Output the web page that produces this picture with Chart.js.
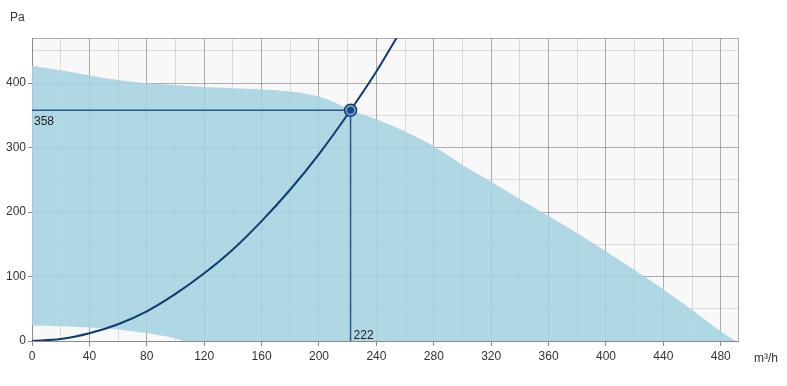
<!DOCTYPE html>
<html>
<head>
<meta charset="utf-8">
<script src="https://cdn.jsdelivr.net/npm/chart.js@4"></script>
<style>
  html, body { margin: 0; padding: 0; background: #fff; }
  #wrap { width: 787px; height: 386px; }
</style>
</head>
<body>
<div id="wrap"><canvas id="fanChart"></canvas></div>
<script>
// Área de trabajo del ventilador (límite superior e inferior)
const upperX = [0, 20, 40, 60, 80, 100, 120, 140, 160, 180, 190, 200, 210, 222, 240, 260, 280, 300, 320, 340, 360, 380, 400, 420, 440, 460, 480, 489, 491];
const upperY = [427, 420, 412, 405, 400, 397, 394, 392, 390, 387, 384, 379, 371, 358, 344, 325, 302, 273, 247, 220, 194, 167, 139, 110, 80, 48, 15, 2, 0];
const lowerX = [0, 20, 40, 60, 80, 100, 106, 491];
const lowerY = [24, 23, 21, 18, 12, 4, 0, 0];

// Curva del sistema
const systemX = [0, 20, 40, 60, 80, 100, 120, 140, 160, 180, 200, 222, 240, 254];
const systemY = [0, 3, 12, 26, 46, 73, 105, 142, 186, 235, 290, 358, 418, 470];

// Punto de trabajo
const workFlow = 222;
const workPressure = 358;

// Ticks de los ejes
const xTicks = [0, 20, 40, 60, 80, 100, 120, 140, 160, 180, 200, 220, 240, 260, 280, 300, 320, 340, 360, 380, 400, 420, 440, 460, 480, 492];
const yTicks = [0, 50, 100, 150, 200, 250, 300, 350, 400, 450, 470];

const xMax = 492;
const yMax = 470;

const toPoints = (xs, ys) => xs.map((x, i) => ({ x: x, y: ys[i] }));

const FONT = '"Liberation Sans", Arial, sans-serif';
const TEXT = '#333';

const plotBackground = {
    id: 'plotBackground',
    beforeDraw(chart) {
        const { ctx, chartArea: a } = chart;
        ctx.save();
        ctx.fillStyle = '#f8f8f8';
        ctx.fillRect(a.left, a.top, a.right - a.left, a.bottom - a.top);
        ctx.restore();
    }
};

const extraTexts = {
    id: 'extraTexts',
    afterDraw(chart) {
        const { ctx, scales: { x, y } } = chart;
        ctx.save();
        ctx.fillStyle = TEXT;
        ctx.font = '12px ' + FONT;
        ctx.textAlign = 'left';
        ctx.textBaseline = 'top';
        ctx.fillText('Pa', 10, 12);
        ctx.textBaseline = 'middle';
        ctx.fillText('m³/h', 754, 359);
        // etiquetas del punto de trabajo
        ctx.fillStyle = '#222';
        ctx.textBaseline = 'top';
        ctx.fillText(String(workPressure), x.getPixelForValue(0) + 2, y.getPixelForValue(workPressure) + 5);
        ctx.textBaseline = 'bottom';
        ctx.fillText(String(workFlow), x.getPixelForValue(workFlow) + 3, y.getPixelForValue(0) + 1);
        ctx.restore();
    }
};

const gridColor = (major, edge) => (c) =>
    (c.tick && (c.tick.value % major === 0 || c.tick.value === edge)) ? 'rgba(110,110,110,0.55)' : 'rgba(150,150,150,0.3)';
const tickMarkColor = (major) => (c) =>
    (c.tick && c.tick.value % major === 0) ? '#8a8a8a' : 'rgba(0,0,0,0)';

new Chart(document.getElementById('fanChart'), {
    type: 'line',
    data: {
        datasets: [
            {
                data: toPoints(upperX, upperY),
                borderWidth: 0,
                pointRadius: 0,
                backgroundColor: 'rgba(165, 210, 224, 0.88)',
                fill: 1,
                cubicInterpolationMode: 'monotone',
                order: 5
            },
            {
                data: toPoints(lowerX, lowerY),
                borderWidth: 0,
                pointRadius: 0,
                fill: false,
                cubicInterpolationMode: 'monotone',
                order: 6
            },
            {
                data: [{ x: 0, y: workPressure }, { x: workFlow, y: workPressure }],
                borderColor: '#27578a',
                borderWidth: 1.5,
                pointRadius: 0,
                fill: false,
                order: 3
            },
            {
                data: [{ x: workFlow, y: 0 }, { x: workFlow, y: workPressure }],
                borderColor: '#27578a',
                borderWidth: 1.5,
                pointRadius: 0,
                fill: false,
                order: 3
            },
            {
                data: toPoints(systemX, systemY),
                borderColor: '#0e3c70',
                borderWidth: 2,
                pointRadius: 0,
                fill: false,
                cubicInterpolationMode: 'monotone',
                order: 2
            },
            {
                data: [{ x: workFlow, y: workPressure }],
                showLine: false,
                pointRadius: 6,
                pointBackgroundColor: '#7aa3c9',
                pointBorderColor: '#123f73',
                pointBorderWidth: 1.5,
                order: 1
            },
            {
                data: [{ x: workFlow, y: workPressure }],
                showLine: false,
                pointRadius: 3.5,
                pointBackgroundColor: '#134b8c',
                pointBorderWidth: 0,
                order: 0
            }
        ]
    },
    options: {
        responsive: true,
        maintainAspectRatio: false,
        animation: false,
        layout: { padding: { top: 38, right: 49, left: 0, bottom: 0 } },
        plugins: {
            legend: { display: false },
            tooltip: { enabled: false }
        },
        scales: {
            x: {
                type: 'linear',
                min: 0,
                max: xMax,
                afterBuildTicks: (s) => { s.ticks = xTicks.map(v => ({ value: v })); },
                afterFit: (s) => { s.height = 45; },
                border: { color: '#8a8a8a', width: 1 },
                grid: {
                    color: gridColor(40, xMax),
                    tickColor: tickMarkColor(40),
                    tickLength: 5
                },
                ticks: {
                    autoSkip: false,
                    maxRotation: 0,
                    padding: 3,
                    color: TEXT,
                    font: { family: FONT, size: 12 },
                    callback: (v) => (v % 40 === 0 ? v : '')
                }
            },
            y: {
                min: 0,
                max: yMax,
                afterBuildTicks: (s) => { s.ticks = yTicks.map(v => ({ value: v })); },
                afterFit: (s) => { s.width = 32; },
                border: { color: '#8a8a8a', width: 1 },
                grid: {
                    color: gridColor(100, yMax),
                    tickColor: tickMarkColor(100),
                    tickLength: 4
                },
                ticks: {
                    autoSkip: false,
                    padding: 2,
                    color: TEXT,
                    font: { family: FONT, size: 12 },
                    callback: (v) => (v % 100 === 0 ? v : '')
                }
            }
        }
    },
    plugins: [plotBackground, extraTexts]
});
</script>
</body>
</html>
